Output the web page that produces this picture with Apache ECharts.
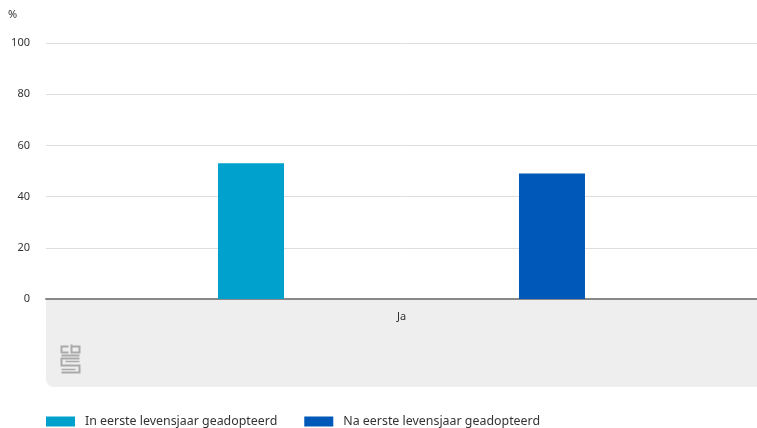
<!DOCTYPE html>
<html><head><meta charset="utf-8">
<script src="https://cdn.jsdelivr.net/npm/echarts@6/dist/echarts.min.js"></script>
<style>html,body{margin:0;padding:0;background:#fff}#c{width:757px;height:428px}</style>
</head><body><div id="c"></div>
<script>
var categories = ['Ja'];
var seriesNames = ['In eerste levensjaar geadopteerd', 'Na eerste levensjaar geadopteerd'];
var valuesIn = [53];
var valuesNa = [49];
var yTicks = [0, 20, 40, 60, 80, 100];

var chart = echarts.init(document.getElementById('c'));
var font = 'Noto Sans';
chart.setOption({
  animation: false,
  grid: { left: 46, width: 717, top: 43, bottom: 129 },
  legend: {
    left: 46, top: 415, padding: 0, itemWidth: 29, itemHeight: 10, itemGap: 27,
    icon: 'rect',
    textStyle: { fontFamily: font, fontSize: 12.4, lineHeight: 13, color: '#333', padding: [0, 0, 0, 5] },
    data: seriesNames
  },
  graphic: [
    { type: 'rect', z: -1, shape: { x: 46, y: 300, width: 720, height: 87, r: [0, 0, 0, 8] }, style: { fill: '#eeeeee' } },
    { type: 'text', left: 8, top: 9, style: { text: '%', fontFamily: font, fontSize: 11, fill: '#333' } },
    { type: 'group', left: 59, top: 342, children: [
      { type: 'polyline', shape: { points: [[8,2],[1,2],[1,8],[8,8]] }, style: { stroke: '#aaa', lineWidth: 2, fill: null } },
      { type: 'polyline', shape: { points: [[11,0],[11,8],[19,8],[19,2],[11,2]] }, style: { stroke: '#aaa', lineWidth: 2, fill: null } },
      { type: 'polyline', shape: { points: [[1,11],[19,11]] }, style: { stroke: '#aaa', lineWidth: 2, fill: null } },
      { type: 'polyline', shape: { points: [[19,14],[1,14],[1,21],[19,21],[19,28],[1,28]] }, style: { stroke: '#aaa', lineWidth: 2, fill: null } },
      { type: 'polyline', shape: { points: [[5,17],[19,17]] }, style: { stroke: '#aaa', lineWidth: 1.5, fill: null } },
      { type: 'polyline', shape: { points: [[1,25],[15,25]] }, style: { stroke: '#aaa', lineWidth: 1.5, fill: null } }
    ]}
  ],
  xAxis: {
    type: 'category', data: categories,
    axisLine: { lineStyle: { color: '#888', width: 2 } },
    axisTick: { show: false },
    axisLabel: { fontFamily: font, fontSize: 11, color: '#333', margin: 12 }
  },
  yAxis: {
    type: 'value', min: 0, max: 100, interval: 20,
    axisLine: { show: false }, axisTick: { show: false },
    splitLine: { lineStyle: { color: '#dedede', width: 1 } },
    axisLabel: { fontFamily: font, fontSize: 11, color: '#333', margin: 16,
      formatter: function (v) { return yTicks.indexOf(v) >= 0 ? String(v) : ''; } }
  },
  series: [
    { name: seriesNames[0], type: 'bar', data: valuesIn, barWidth: 66, barGap: '356%', itemStyle: { color: '#00a1cd' } },
    { name: seriesNames[1], type: 'bar', data: valuesNa, barWidth: 66, itemStyle: { color: '#0058b8' } }
  ]
});
</script></body></html>
